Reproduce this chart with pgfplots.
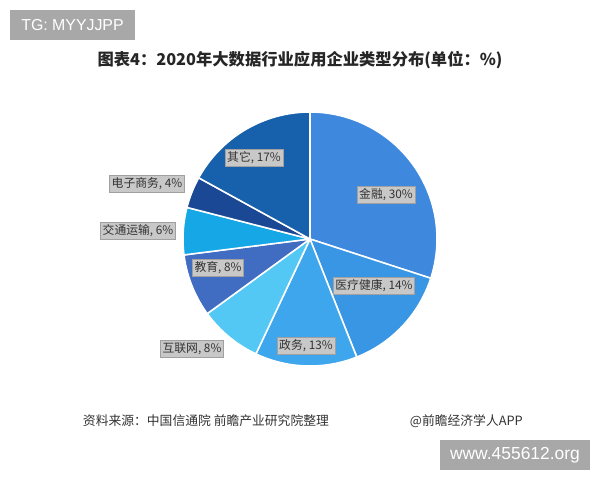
\documentclass[border=0pt]{standalone}
\usepackage{pgfplots}
\pgfplotsset{compat=1.18}
\usepackage{fontspec}
\setmainfont{Liberation Sans}
\newfontfamily\cjk{Noto Sans CJK SC}
\definecolor{cJR}{RGB}{62,136,221}
\definecolor{cYL}{RGB}{56,150,228}
\definecolor{cZW}{RGB}{62,166,236}
\definecolor{cHL}{RGB}{84,200,245}
\definecolor{cJY}{RGB}{64,108,194}
\definecolor{cJT}{RGB}{22,168,230}
\definecolor{cDZ}{RGB}{26,72,148}
\definecolor{cQT}{RGB}{22,96,172}
\definecolor{lblfill}{RGB}{200,200,200}
\definecolor{lbldraw}{RGB}{160,160,160}
\definecolor{wm}{RGB}{168,168,168}
% slice: #1 cumulative start (%), #2 value (%), #3 colour
\newcommand\pieslice[3]{%
  \addplot[fill=#3, draw=white, line width=1.1pt, line join=round, domain={90-3.6*(#1+#2)}:{90-3.6*(#1)}, samples=80]
    ({310+127*cos(x)},{239-127*sin(x)}) -- (axis cs:310,239) -- cycle;}
\tikzset{lbl/.style={fill=lblfill, draw=lbldraw, line width=0.4pt, inner xsep=1.5pt, inner ysep=1.6pt, text=black!80, font=\cjk\fontsize{8.4}{10}\selectfont}}
\begin{document}
\begin{tikzpicture}
\begin{axis}[scale only axis, width=15cm, height=12cm, hide axis,
  xmin=0, xmax=600, ymin=0, ymax=480, y dir=reverse, clip=false, no markers]
\fill[white] (axis cs:0,0) rectangle (axis cs:600,480);
% values: 金融 30, 医疗健康 14, 政务 13, 互联网 8, 教育 8, 交通运输 6, 电子商务 4, 其它 17
\pieslice{0}{30}{cJR}
\pieslice{30}{14}{cYL}
\pieslice{44}{13}{cZW}
\pieslice{57}{8}{cHL}
\pieslice{65}{8}{cJY}
\pieslice{73}{6}{cJT}
\pieslice{79}{4}{cDZ}
\pieslice{83}{17}{cQT}
\node[lbl] at (axis cs:254,158) {其它, 17\%};
\node[lbl] at (axis cs:386,194.5) {金融, 30\%};
\node[lbl] at (axis cs:147,183.5) {电子商务, 4\%};
\node[lbl] at (axis cs:138,231) {交通运输, 6\%};
\node[lbl] at (axis cs:218,268) {教育, 8\%};
\node[lbl] at (axis cs:374,286) {医疗健康, 14\%};
\node[lbl] at (axis cs:306,346) {政务, 13\%};
\node[lbl] at (axis cs:192,349) {互联网, 8\%};
% title and decorations
\node[font=\cjk\bfseries\fontsize{11.6}{13}\selectfont, text=black!85] at (axis cs:300,60) {图表4：2020年大数据行业应用企业类型分布(单位：\%)};
\fill[wm] (axis cs:10,10) rectangle (axis cs:135,40);
\node[text=white, font=\fontsize{11.3}{13}\selectfont] at (axis cs:72.5,25) {TG: MYYJJPP};
\fill[wm] (axis cs:440,440) rectangle (axis cs:590,470);
\node[text=white, font=\fontsize{12.4}{14}\selectfont] at (axis cs:515,455) {www.455612.org};
\node[anchor=west, text=black!80, font=\cjk\fontsize{9.1}{11}\selectfont] at (axis cs:78,421) {资料来源：中国信通院 前瞻产业研究院整理};
\node[anchor=west, text=black!80, font=\cjk\fontsize{9.1}{11}\selectfont] at (axis cs:405,421) {@前瞻经济学人APP};
\end{axis}
\end{tikzpicture}
\end{document}
